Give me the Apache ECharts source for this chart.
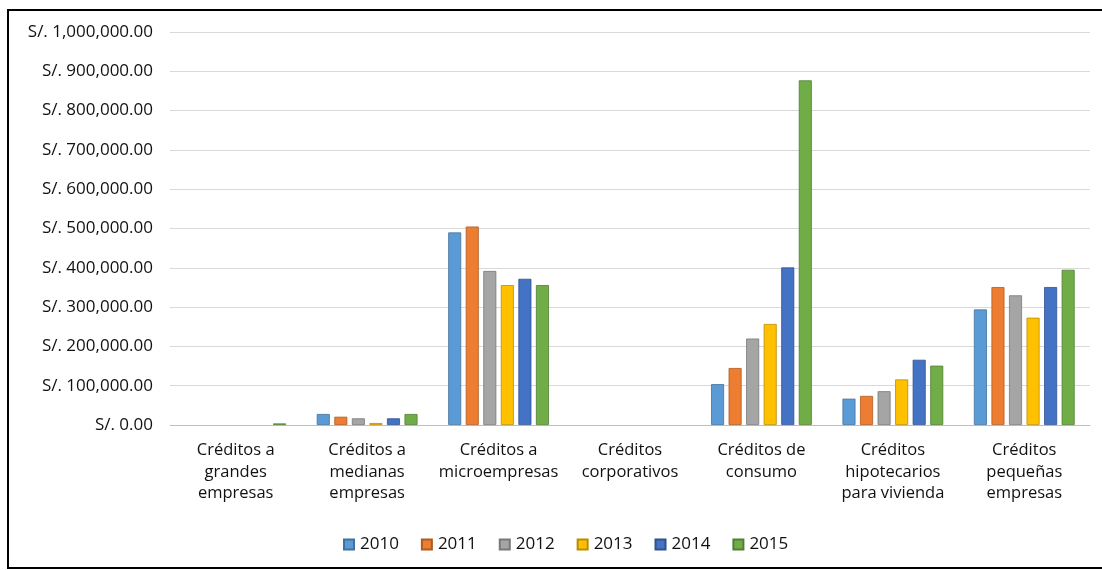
<!DOCTYPE html>
<html>
<head>
<meta charset="utf-8">
<script src="https://cdn.jsdelivr.net/npm/echarts@6/dist/echarts.min.js"></script>
<style>
  html, body { margin: 0; padding: 0; background: #ffffff; }
  #chart { width: 1102px; height: 570px; }
</style>
</head>
<body>
<div id="chart"></div>
<script>
// Loan portfolio by credit type and year (S/.)
const categories = [
  'Créditos a\ngrandes\nempresas',
  'Créditos a\nmedianas\nempresas',
  'Créditos a\nmicroempresas',
  'Créditos\ncorporativos',
  'Créditos de\nconsumo',
  'Créditos\nhipotecarios\npara vivienda',
  'Créditos\npequeñas\nempresas'
];
const years = ['2010', '2011', '2012', '2013', '2014', '2015'];
const colors = ['#5B9BD5', '#ED7D31', '#A5A5A5', '#FFC000', '#4472C4', '#70AD47'];
const borders = ['#41719C', '#AE5A21', '#787878', '#BC8C00', '#2F528F', '#507E32'];

const v2010 = [0, 28000, 490000, 0, 104000, 67000, 294000];
const v2011 = [0, 21000, 505000, 0, 145000, 74000, 351000];
const v2012 = [0, 17000, 392000, 0, 220000, 86000, 330000];
const v2013 = [0, 5000, 356000, 0, 257000, 116000, 273000];
const v2014 = [0, 17000, 372000, 0, 401000, 166000, 351000];
const v2015 = [4000, 28000, 356000, 0, 877000, 151000, 395000];
const seriesValues = [v2010, v2011, v2012, v2013, v2014, v2015];

const fontFamily = '"Open Sans", "Noto Sans", sans-serif';
const textColor = '#111111';

function money(v) {
  return 'S/. ' + Number(v).toLocaleString('en-US', { minimumFractionDigits: 2, maximumFractionDigits: 2 });
}

const chart = echarts.init(document.getElementById('chart'), null, { renderer: 'canvas' });
chart.setOption({
  backgroundColor: '#ffffff',
  animation: false,
  textStyle: { fontFamily: fontFamily },
  graphic: [{
    type: 'rect',
    shape: { x: 8, y: 10, width: 1100, height: 558 },
    style: { fill: 'none', stroke: '#000000', lineWidth: 2 },
    silent: true,
    z: 100
  }],
  legend: {
    data: years,
    bottom: 12,
    left: 338,
    itemWidth: 10,
    itemHeight: 10,
    itemGap: 22,
    icon: 'rect',
    textStyle: { fontFamily: fontFamily, fontSize: 17, color: textColor, padding: [0, 0, 0, 1] }
  },
  grid: { left: 170, right: 12, top: 32, bottom: 145, containLabel: false },
  xAxis: {
    type: 'category',
    data: categories,
    axisTick: { show: false },
    axisLine: { lineStyle: { color: '#bfbfbf', width: 1 } },
    axisLabel: {
      interval: 0,
      margin: 15,
      color: textColor,
      fontFamily: fontFamily,
      fontSize: 16.5,
      lineHeight: 21.5
    }
  },
  yAxis: {
    type: 'value',
    min: 0,
    max: 1000000,
    interval: 100000,
    axisLine: { show: false },
    axisTick: { show: false },
    splitLine: { lineStyle: { color: '#d9d9d9', width: 1 } },
    axisLabel: {
      margin: 17,
      color: textColor,
      fontFamily: fontFamily,
      fontSize: 17,
      formatter: money
    }
  },
  // empty categories draw no bar at all
  series: years.map((y, i) => ({
    name: y,
    type: 'bar',
    data: seriesValues[i].map(v => (v === 0 ? '-' : v)),
    barWidth: 13,
    barGap: '35%',
    itemStyle: { color: colors[i], borderColor: borders[i], borderWidth: 0.8 }
  }))
});
</script>
</body>
</html>
